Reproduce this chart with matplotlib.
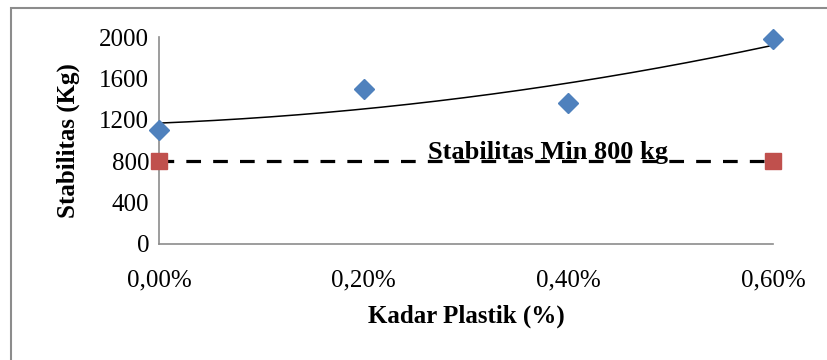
import matplotlib
matplotlib.use("Agg")
import matplotlib.pyplot as plt
import numpy as np
from matplotlib.patches import Rectangle

plt.rcParams['font.family'] = ['Liberation Serif', 'DejaVu Serif']

# kadar plastik (fraction of percent) vs Marshall stability
kadar = [0.0, 0.2, 0.4, 0.6]
stabilitas = [1105, 1494, 1366, 1983]
batas_x = [0.0, 0.6]
batas_y = [800, 800]
yticks = [0, 400, 800, 1200, 1600, 2000]
xticks = [0.0, 0.2, 0.4, 0.6]
xlabels = ['0,00%', '0,20%', '0,40%', '0,60%']

fig = plt.figure(figsize=(8.27, 3.6), dpi=100)
ax = fig.add_axes([159 / 827, 1 - 244 / 360, (773 - 159) / 827, (244 - 37) / 360])

# outer chart frame
fig.patches.append(Rectangle((11 / 827, -0.1), 1.0, 1 - 8 / 360 + 0.1,
                             transform=fig.transFigure, fill=False,
                             edgecolor='#8c8c8c', linewidth=1.5))

# polynomial (order 2) trendline
koef = np.polyfit(kadar, stabilitas, 2)
xs = np.linspace(0, 0.6, 200)
ax.plot(xs, np.polyval(koef, xs), color='black', linewidth=1.1, zorder=2)

ax.plot(batas_x, batas_y, color='black', linewidth=2.3, dashes=[4.6, 3.8], zorder=2)
ax.plot(batas_x, batas_y, linestyle='none', marker='s', markersize=11,
        color='#C0504D', zorder=3, clip_on=False)
ax.plot(kadar, stabilitas, linestyle='none', marker='D', markersize=10,
        color='#4F81BD', zorder=4, clip_on=False)

ax.text(0.38, 775, 'Stabilitas Min 800 kg', fontsize=19, fontweight='bold',
        ha='center', va='bottom', zorder=5)

ax.set_xlim(0, 0.6)
ax.set_ylim(0, 2000)
ax.set_yticks(yticks)
ax.set_xticks(xticks)
ax.set_xticklabels(xlabels)
ax.tick_params(length=0, labelsize=18)
ax.tick_params(axis='y', pad=7)
ax.tick_params(axis='x', pad=18)
for s in ['top', 'right']:
    ax.spines[s].set_visible(False)
for s in ['left', 'bottom']:
    ax.spines[s].set_color('#8c8c8c')
    ax.spines[s].set_linewidth(1.2)

ax.set_xlabel('Kadar Plastik (%)', fontsize=18, fontweight='bold', labelpad=10)
ax.set_ylabel('Stabilitas (Kg)', fontsize=18, fontweight='bold', labelpad=14)

fig.savefig('out.png', dpi=100)
